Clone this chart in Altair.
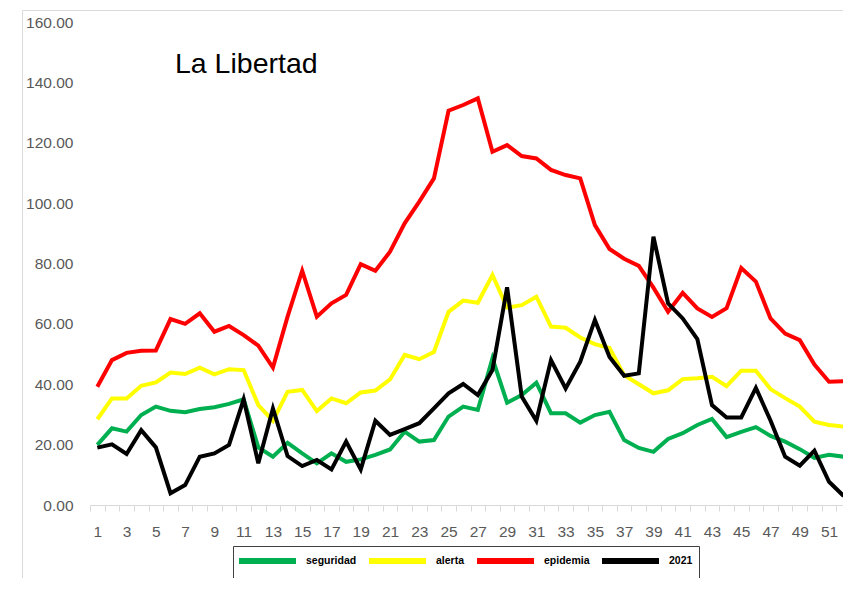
import altair as alt
import pandas as pd

weeks = list(range(1, 53))

seguridad = [19.9, 25.4, 24.3, 29.8, 32.6, 31.2, 30.7, 31.8, 32.4, 33.5,
             35.0, 19.1, 16.0, 20.6, 17.1, 13.8, 17.1, 14.3, 15.1, 16.6,
             18.4, 24.3, 21.0, 21.5, 29.3, 32.6, 31.5, 48.6, 33.9, 36.4,
             40.5, 30.4, 30.4, 27.3, 29.8, 30.9, 21.5, 18.9, 17.6, 21.9,
             23.8, 26.5, 28.5, 22.5, 24.2, 25.8, 22.9, 21.0, 18.5, 15.6,
             16.6, 16.0]

alerta = [28.4, 35.3, 35.3, 39.5, 40.6, 43.9, 43.4, 45.5, 43.3, 45.0,
          44.7, 33.1, 27.9, 37.5, 38.1, 31.1, 35.3, 33.7, 37.3, 37.9,
          41.6, 49.7, 48.3, 50.7, 64.0, 67.7, 67.0, 76.2, 65.4, 66.2,
          69.0, 59.1, 58.7, 55.5, 53.3, 52.0, 43.0, 40.0, 37.0, 38.0,
          41.7, 42.0, 42.5, 39.4, 44.5, 44.5, 38.4, 35.4, 32.6, 27.6,
          26.5, 26.0]

epidemia = [39.2, 48.0, 50.4, 51.1, 51.2, 61.6, 60.0, 63.5, 57.4, 59.3,
            56.3, 52.8, 45.5, 62.4, 77.6, 62.4, 66.8, 69.6, 79.8, 77.6,
            83.9, 93.3, 100.5, 108.2, 130.6, 132.5, 134.7, 117.0, 119.2, 115.6,
            114.8, 111.0, 109.3, 108.2, 92.7, 84.8, 81.6, 79.2, 72.0, 64.0,
            70.3, 65.1, 62.3, 65.2, 78.5, 74.0, 61.8, 56.8, 54.6, 46.5,
            40.8, 41.0]

y2021 = [19.0, 20.1, 16.9, 24.8, 19.1, 3.9, 6.6, 16.0, 17.1, 19.9,
         35.0, 13.8, 32.0, 16.2, 12.9, 14.9, 11.8, 21.0, 11.8, 27.9,
         23.2, 25.1, 27.1, 32.0, 37.0, 40.1, 36.4, 44.7, 72.1, 35.9,
         27.9, 48.0, 38.6, 47.5, 61.3, 49.0, 42.8, 43.6, 88.9, 66.8,
         61.8, 55.0, 33.1, 29.0, 29.0, 38.8, 28.0, 16.0, 13.0, 18.0,
         7.7, 3.0]

series_names = ["seguridad", "alerta", "epidemia", "2021"]
series_colors = ["#00b050", "#ffff00", "#ff0000", "#000000"]
y_ticks = [0, 20, 40, 60, 80, 100, 120, 140, 160]
chart_title = "La Libertad"

rows = []
for name, vals in zip(series_names, [seguridad, alerta, epidemia, y2021]):
    for w, v in zip(weeks, vals):
        rows.append({"week": w, "value": v, "serie": name})
df = pd.DataFrame(rows)

W = 753
H = 483
FONT = "Liberation Sans"

x_enc = alt.X(
    "week:O",
    bandPosition=0.5,
    scale=alt.Scale(type="band", domain=weeks, range=[0, 761],
                    paddingInner=0, paddingOuter=0),
    axis=alt.Axis(
        title=None, tickBand="extent", labelAngle=0, labelOverlap=False,
        labelExpr="datum.value % 2 == 1 ? datum.label : ''",
        domainColor="#d9d9d9", domainWidth=1, tickColor="#d9d9d9",
        tickSize=6, labelPadding=13, labelColor="#595959",
        labelFont=FONT, labelFontSize=15.5, grid=False,
    ),
)
y_enc = alt.Y(
    "value:Q",
    scale=alt.Scale(domain=[0, 160], nice=False, zero=True),
    axis=alt.Axis(
        title=None, values=y_ticks, format=".2f", grid=False, domain=False,
        ticks=False, labelPadding=17, labelColor="#595959",
        labelFont=FONT, labelFontSize=15.5,
    ),
)
color_enc = alt.Color(
    "serie:N",
    scale=alt.Scale(domain=series_names, range=series_colors),
    legend=alt.Legend(
        title=None, orient="none", legendX=143, legendY=524,
        direction="horizontal", columns=4,
        symbolType="M-4.75,0H4.75", symbolSize=144, symbolStrokeWidth=6,
        symbolOffset=19.5, labelOffset=29.5,
        labelFont=FONT, labelFontSize=10.5, labelFontWeight="bold",
        labelColor="black", strokeColor="#404040", fillColor="white",
        padding=6, columnPadding=0,
    ),
)

layers = []
for n in series_names:
    layers.append(
        alt.Chart(df)
        .transform_filter(alt.datum.serie == n)
        .mark_line(strokeWidth=4)
        .encode(x=x_enc, y=y_enc, color=color_enc)
    )

one = pd.DataFrame({"t": [chart_title]})
border_v = alt.Chart(one).mark_rule(color="#d9d9d9", strokeWidth=1).encode(
    x=alt.value(-67.5), y=alt.value(-11.5), y2=alt.value(H + 120))
border_h = alt.Chart(one).mark_rule(color="#d9d9d9", strokeWidth=1).encode(
    x=alt.value(-67.5), x2=alt.value(800), y=alt.value(-11.5))
title = alt.Chart(one).mark_text(
    align="left", baseline="alphabetic", font=FONT, fontSize=28.5, color="black"
).encode(x=alt.value(85), y=alt.value(51), text="t:N")

chart = (
    alt.layer(border_v, border_h, *layers, title)
    .properties(
        width=W, height=H,
        autosize=alt.AutoSizeParams(type="none"),
        padding={"left": 82, "top": 14, "right": 0, "bottom": 73},
    )
    .configure_view(stroke=None)
)

chart.save("out.html", embed_options={"renderer": "svg", "actions": False})
